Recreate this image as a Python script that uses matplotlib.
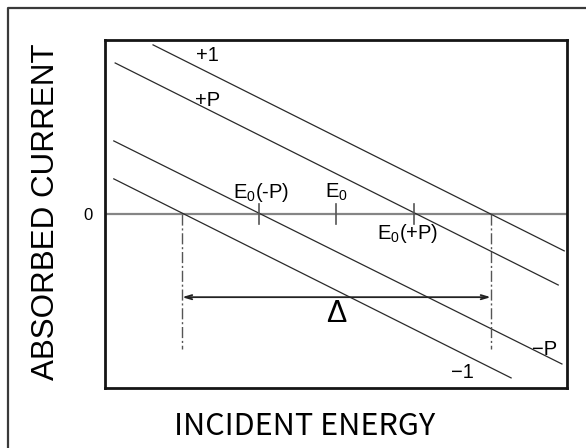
import matplotlib
matplotlib.use("Agg")
import matplotlib.pyplot as plt
from matplotlib.lines import Line2D

plt.rcParams['font.family'] = ['Liberation Sans', 'DejaVu Sans']
plt.rcParams['mathtext.fontset'] = 'custom'
plt.rcParams['mathtext.rm'] = 'Liberation Sans'
plt.rcParams['mathtext.it'] = 'Liberation Sans:italic'

# straight current-vs-energy lines: end points (energy, current)
line_names = ["+1", "+P", "\u2212P", "\u22121"]
e_start = [1.04, 0.22, 0.19, 0.19]
e_end = [9.94, 9.81, 9.89, 8.79]
i_start = [4.86, 4.34, 2.10, 1.01]
i_end = [-1.06, -2.04, -4.31, -4.71]

# where each line carries its label (energy, current at baseline)
name_e = [2.21, 2.21, 9.52, 7.73]
name_i = [4.40, 3.10, -4.05, -4.71]

# characteristic energies on the zero-current axis
mark_names = ["E$_0$(-P)", "E$_0$", "E$_0$(+P)"]
mark_e = [3.33, 5.0, 6.68]
mark_text_e = [3.38, 5.01, 6.56]
mark_text_i = [0.46, 0.46, -0.72]

# width of the window between the -1 and +1 zero crossings
delta_lo, delta_hi = 1.67, 8.35
delta_level = -2.39
guide_bottom = -3.88

fig = plt.figure(figsize=(5.86, 4.48), dpi=100)
ax = fig.add_axes([105 / 586, 60 / 448, 462 / 586, 348 / 448])
ax.set_xlim(0, 10)
ax.set_ylim(-5.0, 5.0)

# outer frame (open at right and bottom)
fig.add_artist(Line2D([7.5 / 586, 7.5 / 586, 1.0], [0.0, 1 - 8.5 / 448, 1 - 8.5 / 448],
                      transform=fig.transFigure, color='#3a3a3a', lw=1.6))

for s in ax.spines.values():
    s.set_linewidth(2.0)
    s.set_color('#151515')

ax.axhline(0, color='#858585', lw=1.6, zorder=1)

for name, e0, e1, c0, c1, te, ti in zip(line_names, e_start, e_end, i_start, i_end,
                                        name_e, name_i):
    ax.plot([e0, e1], [c0, c1], color='#2a2a2a', lw=0.9)
    ax.text(te, ti, name, fontsize=14.5, ha='center', va='baseline')

for name, e, te, ti in zip(mark_names, mark_e, mark_text_e, mark_text_i):
    ax.plot([e, e], [0.29, -0.29], color='#555555', lw=1.2)
    ax.text(te, ti, name, fontsize=14.5, ha='center', va='baseline')

for e in (delta_lo, delta_hi):
    ax.plot([e, e], [0, guide_bottom], color='#555555', lw=1.0,
            linestyle=(0, (8, 2, 1.5, 2)))

ax.annotate("", xy=(delta_lo, delta_level), xytext=(delta_hi, delta_level),
            arrowprops=dict(arrowstyle='<->, head_length=0.5, head_width=0.15',
                            color='#222222', lw=1.3, shrinkA=0, shrinkB=0))
ax.text((delta_lo + delta_hi) / 2, -3.10, "\u0394", fontsize=22,
        ha='center', va='baseline')

ax.set_xticks([])
ax.set_yticks([0])
ax.set_yticklabels(["0"], fontsize=12)
ax.tick_params(axis='y', length=0, pad=9)

ax.set_ylabel("ABSORBED CURRENT", fontsize=22.6, va='center')
ax.yaxis.set_label_coords(-0.128, 0.507)
ax.set_xlabel("INCIDENT ENERGY", fontsize=22,
              family=['Noto Sans CJK JP', 'Liberation Sans'], va='center')
ax.xaxis.set_label_coords(0.433, -0.11)

fig.savefig("out.png", dpi=100)
